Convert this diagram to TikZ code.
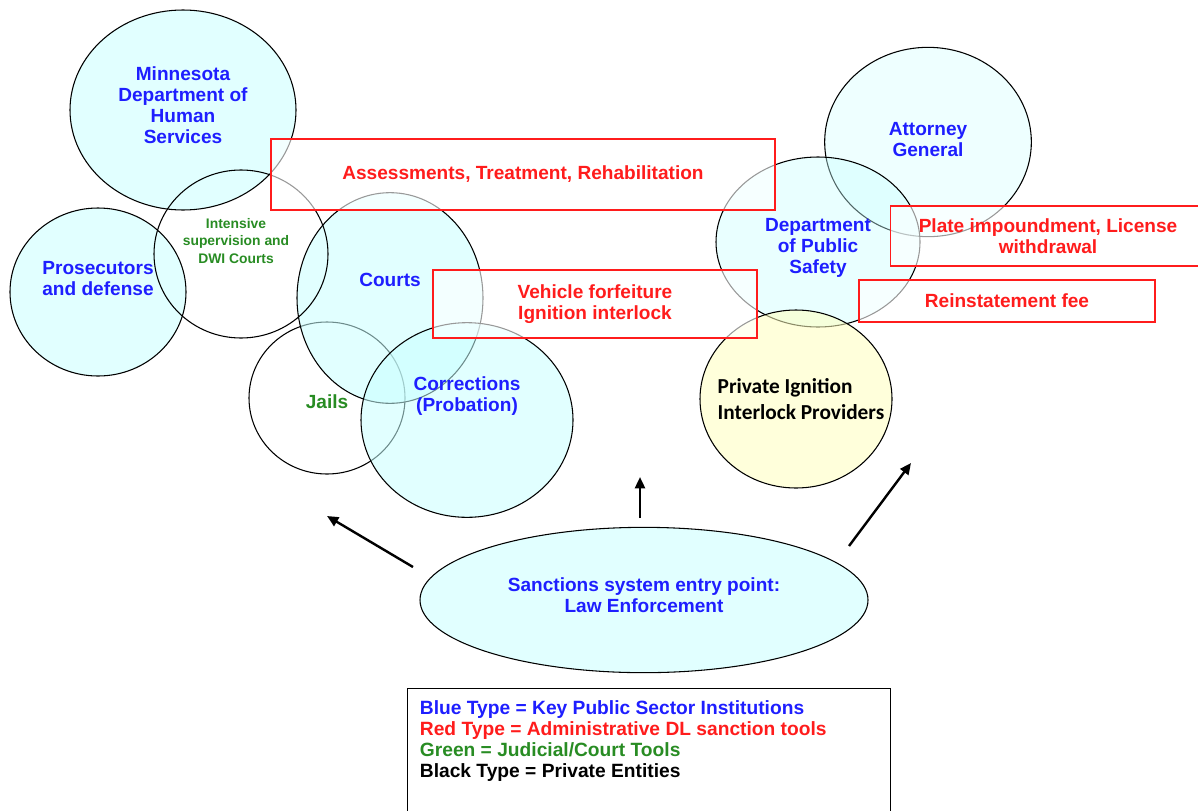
\documentclass[tikz,border=0pt]{standalone}
\usepackage{fontspec}
\setmainfont{Liberation Sans}
\newfontfamily\calibrifont{Carlito}
\usetikzlibrary{positioning}
\usetikzlibrary{shapes.geometric}
\usetikzlibrary{arrows.meta}
\definecolor{instblue}{RGB}{30,30,255}
\definecolor{toolred}{RGB}{255,28,28}
\definecolor{courtgreen}{RGB}{40,140,35}
\definecolor{agencyfill}{RGB}{200,255,255}
\definecolor{privfill}{RGB}{255,255,190}

\begin{document}
\begin{tikzpicture}[x=0.75pt,y=-0.75pt,
  agency/.style={ellipse, draw=black, line width=0.8pt, fill=agencyfill, fill opacity=0.55, inner sep=0pt},
  bare/.style={ellipse, draw=black, line width=0.8pt, inner sep=0pt},
  tool/.style={rectangle, draw=toolred, line width=1.1pt, fill=white, fill opacity=0.6, text opacity=1, text=toolred, align=center, font=\bfseries\fontsize{14.3}{15.75}\selectfont},
  bluetxt/.style={text=instblue, align=center, font=\bfseries\fontsize{14.3}{15.75}\selectfont},
  greentxt/.style={text=courtgreen, align=center, font=\bfseries\fontsize{10.4}{13.1}\selectfont},
  push/.style={-{Triangle[length=8.5pt,width=7.5pt]}, line width=1.8pt}]
\useasboundingbox (0,0) rectangle (1198,810);

% circles of the public sector
\node[agency, minimum width=169.5pt, minimum height=150pt] (mdhs) at (183,110) {};
\node[agency, minimum width=132pt, minimum height=126pt] (pros) at (98,292) {};
\node[bare, minimum width=117pt, minimum height=114pt] (jails) at (327,398) {};
\node[agency, minimum width=139.5pt, minimum height=158pt] (courts) at (390,298) {};
\node[agency, minimum width=159pt, minimum height=146pt] (corr) at (467,420) {};
\node[bare, minimum width=130.5pt, minimum height=126pt] (isup) at (241,254) {};
\node[agency, fill opacity=0.3, minimum width=155pt, minimum height=142pt] (ag) at (928,142) {};
\node[agency, fill opacity=0.4, minimum width=153pt, minimum height=127.5pt] (dps) at (818,242) {};
\node[agency, fill=privfill, minimum width=144pt, minimum height=133.5pt] (priv) at (796,399) {};

% sanction tools
\node[tool, minimum width=378pt, minimum height=53pt] (assess) at (523,174.5) {Assessments, Treatment, Rehabilitation};
\node[tool, minimum width=243pt, minimum height=51pt] (vehicle) at (595,304) {Vehicle forfeiture\\Ignition interlock};
\node[tool, minimum width=236pt, minimum height=45pt] (plate) at (1048,236) {Plate impoundment, License\\withdrawal};
\node[tool, minimum width=222pt, minimum height=31.5pt] (reinst) at (1007,301) {Reinstatement fee};

% labels
\node[bluetxt] (mdhsT) at (183,105) {Minnesota\\Department of\\Human\\Services};
\node[bluetxt] (prosT) at (98,279) {Prosecutors\\and defense};
\node[greentxt] (isupT) at (236,241) {Intensive\\supervision and\\DWI Courts};
\node[bluetxt] (courtsT) at (390,280) {Courts};
\node[greentxt, font=\bfseries\fontsize{14.3}{15.75}\selectfont] (jailsT) at (327,402) {Jails};
\node[bluetxt] (corrT) at (467,396) {Corrections\\(Probation)};
\node[bluetxt] (agT) at (928,140) {Attorney\\General};
\node[bluetxt] (dpsT) at (818,248) {Department\\of Public\\Safety};
\node[anchor=west, align=left, font=\calibrifont\bfseries\fontsize{16}{19.5}\selectfont] (privT) at (713,399) {Private Ignition\\Interlock Providers};

% entry point
\node[agency, minimum width=336pt, minimum height=109pt] (law) at (644,600) {};
\node[bluetxt] (lawT) at (644,595) {Sanctions system entry point:\\Law Enforcement};

\coordinate (pL0) at (413,567);
\coordinate (pL1) at (327,516);
\coordinate (pM0) at (640,518);
\coordinate (pM1) at (640,477);
\coordinate (pR0) at (849,546);
\coordinate (pR1) at (911,463);
\draw[push] (pL0) -- (pL1);
\draw[push] (pM0) -- (pM1);
\draw[push] (pR0) -- (pR1);

% key
\node[draw, line width=0.9pt, anchor=north west, minimum width=362pt, minimum height=110pt] (legend) at (407,688) {};
\node[anchor=north west, align=left, inner sep=0pt, font=\bfseries\fontsize{14.4}{15.75}\selectfont] (legendT) at ([xshift=9.5pt,yshift=-9pt]legend.north west)
  {\textcolor{instblue}{Blue Type = Key Public Sector Institutions}\\
   \textcolor{toolred}{Red Type = Administrative DL sanction tools}\\
   \textcolor{courtgreen}{Green = Judicial/Court Tools}\\
   Black Type = Private Entities};
\end{tikzpicture}
\end{document}
